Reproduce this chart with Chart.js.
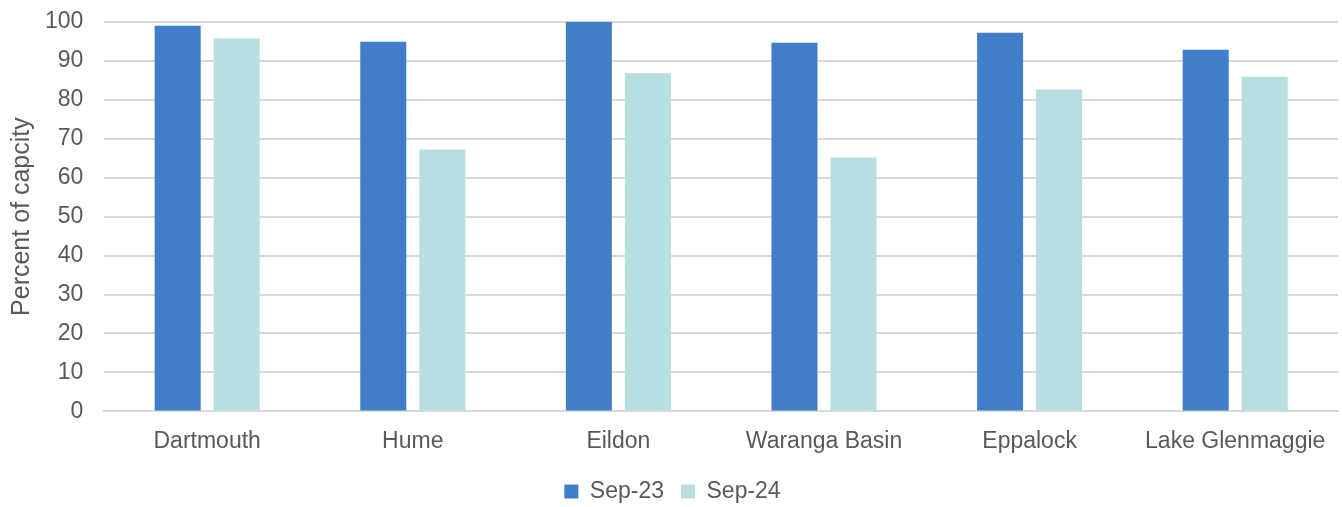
<!DOCTYPE html>
<html>
<head>
<meta charset="utf-8">
<script src="https://cdn.jsdelivr.net/npm/chart.js@4"></script>
<style>
  html, body { margin: 0; padding: 0; background: #fff; overflow: hidden; }
  #wrap { width: 1342px; height: 520px; position: relative; top: -13px; }
</style>
</head>
<body>
<div id="wrap"><canvas id="storage-chart"></canvas></div>
<script>
// Storage levels by reservoir
const reservoirs = ['Dartmouth', 'Hume', 'Eildon', 'Waranga Basin', 'Eppalock', 'Lake Glenmaggie'];
const sep23 = [99.0, 94.9, 100.0, 94.6, 97.2, 92.8];
const sep24 = [95.7, 67.2, 86.8, 65.2, 82.6, 85.9];
const yTicks = [0, 10, 20, 30, 40, 50, 60, 70, 80, 90, 100];

const textColor = '#595959';
const fontFamily = '"Liberation Sans", Arial, sans-serif';

const ctx = document.getElementById('storage-chart').getContext('2d');
new Chart(ctx, {
  type: 'bar',
  data: {
    labels: reservoirs,
    datasets: [
      { label: 'Sep-23', data: sep23, backgroundColor: '#407EC9' },
      { label: 'Sep-24', data: sep24, backgroundColor: '#B7DEE0' }
    ]
  },
  options: {
    responsive: true,
    maintainAspectRatio: false,
    animation: false,
    layout: { padding: { top: 0, right: 4, left: 7, bottom: -6 } },
    datasets: {
      bar: { categoryPercentage: 0.574, barPercentage: 0.78 }
    },
    scales: {
      x: {
        grid: { display: false },
        border: { color: '#D9D9D9', width: 2 },
        ticks: { color: textColor, font: { family: fontFamily, size: 23 }, padding: 8 }
      },
      y: {
        min: 0,
        max: 100,
        afterBuildTicks: axis => { axis.ticks = yTicks.map(v => ({ value: v })); },
        // trim the extra room Chart.js leaves between title and tick labels
        afterFit: axis => { axis.width -= 13; },
        grid: { color: '#D9D9D9', lineWidth: 2, drawTicks: false },
        border: { display: false },
        ticks: { color: textColor, font: { family: fontFamily, size: 23 }, padding: 21 },
        title: {
          display: true,
          text: 'Percent of capcity',
          color: textColor,
          font: { family: fontFamily, size: 25 },
          padding: { top: 0, bottom: 0 }
        }
      }
    },
    plugins: {
      legend: {
        position: 'bottom',
        labels: {
          color: textColor,
          font: { family: fontFamily, size: 23 },
          boxWidth: 14,
          boxHeight: 14,
          padding: 17
        }
      },
      tooltip: { enabled: false }
    }
  }
});
</script>
</body>
</html>
